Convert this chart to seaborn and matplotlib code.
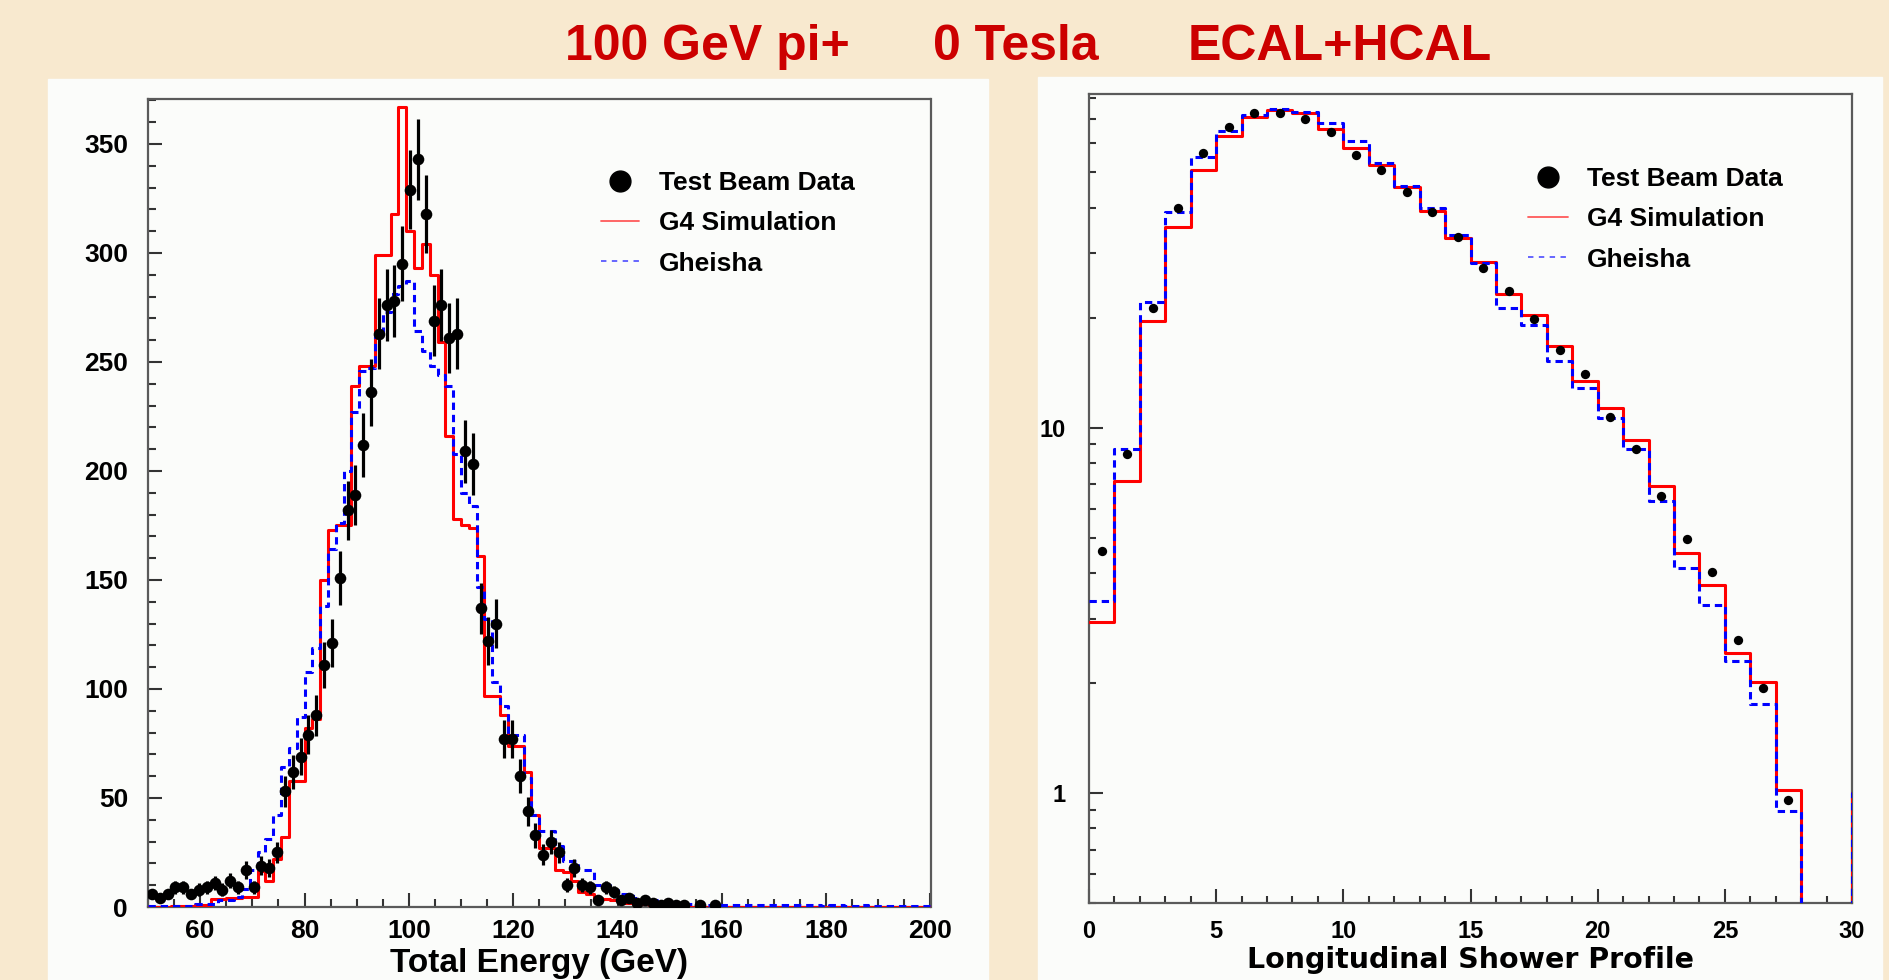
import numpy as np
import pandas as pd
import matplotlib
matplotlib.use("Agg")
import matplotlib.pyplot as plt
import seaborn as sns
from matplotlib.lines import Line2D
from matplotlib.patches import Rectangle
from matplotlib.ticker import MultipleLocator, LogLocator, NullFormatter

# ---------------- data ----------------
title_parts = ["100 GeV pi+", "0 Tesla", "ECAL+HCAL"]
legend_labels = ["Test Beam Data", "G4 Simulation", "Gheisha"]

# Left: total energy, 100 bins of 1.5 GeV from 50 to 200 GeV
energy_range = (50.0, 200.0)
energy_binwidth = 1.5
energy_data = [6, 4, 6, 9, 9, 6, 8, 9, 11, 8,
               12, 9, 17, 9, 19, 18, 25, 53, 62, 69,
               79, 88, 111, 121, 151, 182, 189, 212, 236, 263,
               276, 278, 295, 329, 343, 318, 269, 276, 261, 263,
               209, 203, 137, 122, 130, 77, 77, 60, 44, 33,
               24, 30, 25, 10, 18, 10, 9, 3, 9, 7,
               3, 4, 2, 3, 2, 1, 2, 1, 1, 0,
               1, 0, 1, 0, 0, 0, 0, 0, 0, 0,
               0, 0, 0, 0, 0, 0, 0, 0, 0, 0,
               0, 0, 0, 0, 0, 0, 0, 0, 0, 0]
energy_g4 = [0, 0, 0, 0.5, 0.5, 0.5, 1, 1, 3.5, 3.5,
             4, 4, 4.6, 4.6, 16.5, 12, 22, 32, 58, 58,
             82, 86, 150, 173, 175, 175, 239, 248, 248, 299,
             299, 318, 367, 310, 293, 304, 290, 259, 216, 178,
             175, 174, 161, 97, 97, 88, 74, 74, 62, 42,
             27, 27, 17, 16, 12, 7, 6, 4, 3.5, 3,
             2.5, 2, 1.5, 1.5, 1, 1, 0.5, 0.5, 0, 0,
             0, 0, 0, 0, 0, 0, 0, 0, 0, 0,
             0, 0, 0, 0, 0, 0, 0, 0, 0, 0,
             0, 0, 0, 0, 0, 0, 0, 0, 0, 0]
energy_gheisha = [0.3, 0.3, 0.3, 0.3, 0.3, 0.3, 1.4, 1.4, 1.4, 3,
                  3, 4.6, 8.4, 17, 25, 31, 42, 64, 73, 87,
                  108, 119, 138, 164, 176, 200, 227, 246, 247, 263,
                  273, 281, 285, 287, 264, 255, 248, 244, 239, 208,
                  190, 184, 147, 132, 103, 92, 79, 79, 59, 42,
                  35, 35, 28, 21, 21, 17, 17, 10, 10, 8,
                  6, 6, 4, 3, 3, 2.5, 2, 1.5, 1.5, 1.5,
                  1, 1, 0.8, 1, 0.8, 0.8, 1, 0.8, 0.8, 0.7,
                  0.8, 0.7, 0.7, 0.8, 0.7, 0.7, 0.6, 0.7, 0.7, 0.6,
                  0.6, 0.7, 0.6, 0.6, 0.6, 0.5, 0.6, 0.6, 0.5, 0.5]

# Right: longitudinal shower profile, layers 0..29 plus overflow bin
profile_range = (0, 31)
profile_binwidth = 1
profile_data = [4.58, 8.44, 21.2, 39.8, 56.3, 66.6, 72.4, 72.4, 69.7, 64.3,
                55.7, 50.7, 44.0, 39.0, 33.2, 27.3, 23.6, 19.8, 16.3, 14.0,
                10.7, 8.71, 6.49, 4.97, 4.02, 2.63, 1.94, 0.957]
profile_g4 = [2.93, 7.13, 19.6, 35.3, 50.7, 62.8, 70.9, 73.9, 72.4, 65.5,
              58.1, 52.3, 45.5, 39.2, 33.0, 28.3, 23.2, 20.3, 16.7, 13.4,
              11.3, 9.27, 6.94, 4.53, 3.70, 2.41, 2.01, 1.02, 0, 0, 1.0]
profile_gheisha = [3.35, 8.71, 22.1, 38.8, 54.9, 64.8, 71.7, 74.3, 73.1, 68.3,
                   60.8, 53.1, 45.9, 40.0, 33.7, 28.2, 21.2, 19.1, 15.2, 12.8,
                   10.6, 8.71, 6.29, 4.12, 3.26, 2.29, 1.75, 0.894, 0, 0, 1.0]

energy_xticks = [60, 80, 100, 120, 140, 160, 180, 200]
energy_yticks = [0, 50, 100, 150, 200, 250, 300, 350]
profile_xticks = [0, 5, 10, 15, 20, 25, 30]
profile_yticks = [1, 10]
profile_yticklabels = ["1", "10"]

# ---------------- style ----------------
sns.set_style("white")
plt.rcParams["font.family"] = ["Liberation Sans", "DejaVu Sans"]
plt.rcParams["font.weight"] = "bold"
plt.rcParams["text.color"] = "black"
plt.rcParams["axes.labelcolor"] = "black"
plt.rcParams["xtick.color"] = "black"
plt.rcParams["ytick.color"] = "black"

RED = "#ff0000"
BLUE = "#0000ff"
PANEL = "#fbfcfa"
BEIGE = "#f8e9cf"
SPINE = "#5a5a5a"

W, H = 1889, 980
fig = plt.figure(figsize=(W / 100, H / 100), dpi=100)
fig.patch.set_facecolor(BEIGE)


def fx(px):
    return px / W


def fy(py):
    return 1 - py / H


# white panels (behind the axes)
fig.patches.append(Rectangle((fx(48), 0), fx(988) - fx(48), fy(79),
                             transform=fig.transFigure, color=PANEL, zorder=-10))
fig.patches.append(Rectangle((fx(1038), 0), fx(1882) - fx(1038), fy(77),
                             transform=fig.transFigure, color=PANEL, zorder=-10))

# title
title_centers = [707, 1016, 1340]
for txt, cx in zip(title_parts, title_centers):
    fig.text(fx(cx), fy(60), txt, color="#cc0000", fontsize=36,
             fontweight="bold", ha="center", va="baseline")

axL = fig.add_axes([fx(148), fy(907), fx(930.5) - fx(148), (907 - 99) / H])
axR = fig.add_axes([fx(1089), fy(903), fx(1852) - fx(1089), (903 - 94) / H])
for ax in (axL, axR):
    ax.set_zorder(2)
    ax.set_facecolor(PANEL)
    for s in ax.spines.values():
        s.set_color(SPINE)
        s.set_linewidth(1.6)
        s.set_visible(True)

dash = (0, (2.4, 1.6))

# ---------------- left panel ----------------
nE = len(energy_data)
ecent = energy_range[0] + energy_binwidth * (np.arange(nE) + 0.5)
edf = pd.DataFrame({"energy": ecent,
                    "data": np.asarray(energy_data, dtype=float),
                    "g4": np.asarray(energy_g4, dtype=float),
                    "gheisha": np.asarray(energy_gheisha, dtype=float)})

for col, colr, ls, z in (("g4", RED, "-", 3), ("gheisha", BLUE, dash, 4)):
    sns.histplot(data=edf, x="energy", weights=col, binwidth=energy_binwidth,
                 binrange=energy_range, element="step", fill=False, color=colr,
                 linewidth=2.2, linestyle=ls, ax=axL, zorder=z)
ed = edf[edf["data"] > 0]
axL.errorbar(ed["energy"], ed["data"], yerr=np.sqrt(ed["data"]), fmt="none",
             ecolor="black", elinewidth=2.3, capsize=0, zorder=5)
sns.scatterplot(data=ed, x="energy", y="data", color="black", s=70, linewidth=0,
                ax=axL, zorder=6)

axL.set_xlim(*energy_range)
axL.set_ylim(0, 370.6)
axL.set_xticks(energy_xticks)
axL.set_yticks(energy_yticks)
axL.xaxis.set_minor_locator(MultipleLocator(5))
axL.yaxis.set_minor_locator(MultipleLocator(10))
axL.tick_params(which="both", direction="in", bottom=True, left=True,
                top=False, right=False, color="#333333", width=1.5)
axL.tick_params(which="major", length=10)
axL.tick_params(which="minor", length=5.5)
axL.tick_params(axis="y", pad=14.4, labelsize=19, labelcolor="black")
axL.tick_params(axis="x", pad=8.6, labelsize=19, labelcolor="black")
axL.set_ylabel("")
axL.set_xlabel("Total Energy (GeV)", fontsize=24, fontweight="bold", color="black")
axL.xaxis.label.set_va("baseline")
axL.xaxis.set_label_coords(0.5, -(972 - 907) / 808)

# ---------------- right panel ----------------
nP = len(profile_g4)
pcent = profile_range[0] + profile_binwidth * (np.arange(nP) + 0.5)
pdf = pd.DataFrame({"layer": pcent,
                    "g4": np.asarray(profile_g4, dtype=float),
                    "gheisha": np.asarray(profile_gheisha, dtype=float)})
pdd = pd.DataFrame({"layer": pcent[:len(profile_data)], "data": profile_data})

for col, colr, ls, z in (("g4", RED, "-", 3), ("gheisha", BLUE, dash, 4)):
    sns.histplot(data=pdf, x="layer", weights=col, binwidth=profile_binwidth,
                 binrange=profile_range, element="step", fill=False, color=colr,
                 linewidth=2.2, linestyle=ls, ax=axR, zorder=z)
sns.scatterplot(data=pdd, x="layer", y="data", color="black", s=45,
                linewidth=0, ax=axR, zorder=6)

axR.set_yscale("log")
axR.set_xlim(0, 30)
axR.set_ylim(0.5, 81.8)
axR.set_xticks(profile_xticks)
axR.xaxis.set_minor_locator(MultipleLocator(1))
axR.set_yticks(profile_yticks, labels=profile_yticklabels)
axR.yaxis.set_minor_locator(LogLocator(base=10, subs=np.arange(2, 10)))
axR.yaxis.set_minor_formatter(NullFormatter())
axR.tick_params(which="both", direction="in", bottom=True, left=True,
                top=False, right=False, color="#333333", width=1.5)
axR.tick_params(which="major", length=10)
axR.tick_params(which="minor", length=5)
axR.tick_params(axis="y", pad=16.5, labelsize=17, labelcolor="black")
axR.tick_params(axis="x", pad=12.5, labelsize=17, labelcolor="black")
axR.set_ylabel("")
axR.set_xlabel("Longitudinal Shower Profile", fontsize=20.5, fontweight="bold",
               family="DejaVu Sans", color="black")
axR.xaxis.label.set_va("baseline")
axR.xaxis.set_label_coords(0.5, -(968 - 903) / 809)

# ---------------- legends ----------------
def make_handles():
    return [Line2D([], [], ls="none", marker="o", ms=15, color="black"),
            Line2D([], [], color="#ff5a5a", lw=1.3),
            Line2D([], [], color="#5a5aff", lw=1.3, ls=(0, (3, 3)))]


legprop = {"family": "Liberation Sans", "weight": "bold", "size": 19}
for ax, (x0, y0), hl in ((axL, (601, 171), 1.45), (axR, (1528, 167), 1.5)):
    leg = ax.legend(make_handles(), legend_labels, loc="upper left",
                    bbox_to_anchor=(fx(x0), fy(y0)), bbox_transform=fig.transFigure,
                    frameon=False, borderpad=0, borderaxespad=0, handlelength=hl,
                    handletextpad=0.75, labelspacing=0.62, prop=legprop)
    for t in leg.get_texts():
        t.set_color("black")

fig.savefig("out.png", dpi=100, facecolor=fig.get_facecolor())
